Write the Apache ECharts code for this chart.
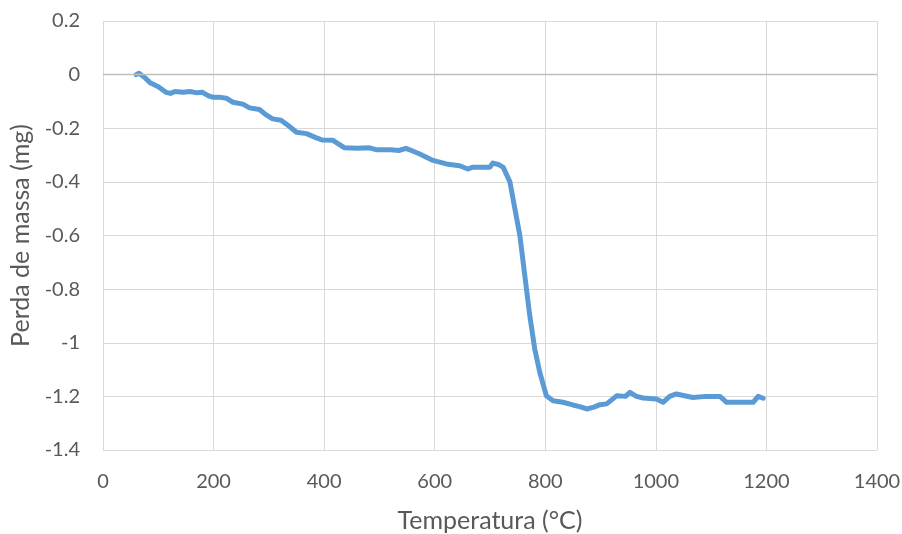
<!DOCTYPE html>
<html>
<head>
<meta charset="utf-8">
<script src="https://cdn.jsdelivr.net/npm/echarts@6/dist/echarts.min.js"></script>
<style>html,body{margin:0;padding:0;background:#fff}#c{width:902px;height:534px}</style>
</head>
<body>
<div id="c"></div>
<script>
const temperature = [60, 65, 75, 85, 90, 100, 114, 122, 130, 145, 157, 170, 180, 190, 198, 210, 223, 235, 253, 265, 283, 295, 307, 322, 335, 350, 368, 385, 397, 416, 437, 460, 482, 494, 520, 535, 548, 560, 573, 597, 621, 645, 660, 669, 700, 705, 715, 724, 736, 745, 754, 763, 772, 781, 790, 802, 814, 832, 850, 862, 875, 888, 899, 911, 929, 945, 953, 965, 977, 1001, 1013, 1025, 1037, 1067, 1090, 1116, 1128, 1150, 1176, 1185, 1194];
const massLoss = [0, 0.005, -0.01, -0.03, -0.035, -0.045, -0.066, -0.07, -0.063, -0.066, -0.063, -0.068, -0.066, -0.078, -0.084, -0.084, -0.088, -0.103, -0.11, -0.124, -0.13, -0.15, -0.165, -0.17, -0.19, -0.215, -0.22, -0.235, -0.244, -0.245, -0.273, -0.275, -0.273, -0.28, -0.28, -0.283, -0.275, -0.285, -0.296, -0.32, -0.333, -0.34, -0.352, -0.345, -0.345, -0.33, -0.335, -0.346, -0.40, -0.50, -0.60, -0.75, -0.90, -1.024, -1.11, -1.198, -1.216, -1.222, -1.232, -1.238, -1.247, -1.24, -1.231, -1.228, -1.198, -1.2, -1.185, -1.2, -1.206, -1.21, -1.222, -1.2, -1.191, -1.204, -1.2, -1.20, -1.222, -1.222, -1.222, -1.2, -1.207];
const xTitle = 'Temperatura (°C)';
const yTitle = 'Perda de massa (mg)';

const chart = echarts.init(document.getElementById('c'));
const font = 'Lato, "Open Sans", sans-serif';
chart.setOption({
  animation: false,
  grid: {left: 103, right: 25, top: 21, bottom: 84, containLabel: false, outerBoundsMode: 'none'},
  xAxis: {
    type: 'value', min: 0, max: 1400, interval: 200,
    name: xTitle, nameLocation: 'middle', nameGap: 58,
    nameTextStyle: {fontFamily: font, fontSize: 25, color: '#595959'},
    axisLine: {show: false}, axisTick: {show: false},
    axisLabel: {fontFamily: font, fontSize: 20, color: '#595959', margin: 22,
      formatter: v => String(v)},
    splitLine: {show: true, lineStyle: {color: '#d9d9d9', width: 1}}
  },
  yAxis: {
    type: 'value', min: -1.4, max: 0.2, interval: 0.2,
    name: yTitle, nameLocation: 'middle', nameGap: 69, nameRotate: 90,
    nameTextStyle: {fontFamily: font, fontSize: 25, color: '#595959'},
    axisLine: {show: false}, axisTick: {show: false},
    axisLabel: {fontFamily: font, fontSize: 20, color: '#595959', margin: 23,
      formatter: v => String(Math.round(v * 10) / 10)},
    splitLine: {show: true, lineStyle: {color: '#d9d9d9', width: 1}}
  },
  series: [{
    type: 'line',
    data: temperature.map((t, i) => [t, massLoss[i]]),
    showSymbol: false,
    lineStyle: {color: '#5b9bd5', width: 5, cap: 'round', join: 'round'},
    itemStyle: {color: '#5b9bd5'},
    markLine: {
      silent: true, symbol: 'none', label: {show: false},
      lineStyle: {color: '#bfbfbf', width: 1.3, type: 'solid'},
      data: [{yAxis: 0}]
    },
    z: 3
  }]
});
</script>
</body>
</html>
